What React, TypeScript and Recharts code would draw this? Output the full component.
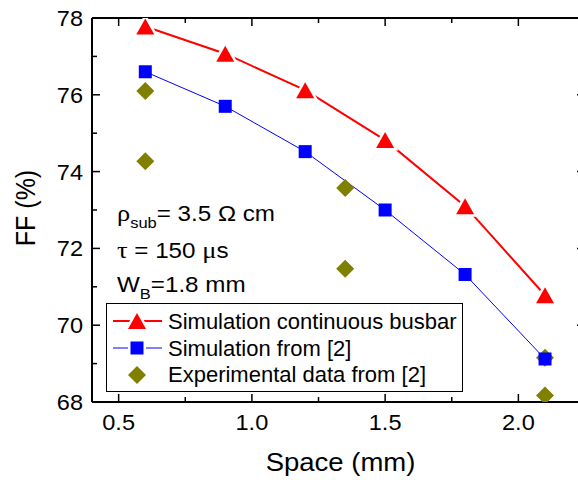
import React from 'react';
import { ComposedChart, Line, Scatter, XAxis, YAxis, Label } from 'recharts';

// values
const space = [0.6, 0.9, 1.2, 1.5, 1.8, 2.1];
const simContinuous = [77.78, 77.07, 76.12, 74.82, 73.1, 70.78];
const simRef2 = [76.6, 75.7, 74.52, 73.0, 71.32, 69.12];
const expSpace = [0.6, 0.6, 1.35, 1.35, 2.1, 2.1];
const expFF = [76.1, 74.27, 73.57, 71.47, 69.15, 68.17];

const xTicks = [0.5, 0.75, 1.0, 1.25, 1.5, 1.75, 2.0];
const xLabels = [0.5, 1.0, 1.5, 2.0];
const yTicks = [68, 69, 70, 71, 72, 73, 74, 75, 76, 77, 78];
const yLabels = [68, 70, 72, 74, 76, 78];

const continuousData = space.map((x, i) => ({ x, ff: simContinuous[i] }));
const ref2Data = space.map((x, i) => ({ x, ff: simRef2[i] }));
const expData = expSpace.map((x, i) => ({ x, ff: expFF[i] }));

const FONT = '"Liberation Sans", Arial, sans-serif';
const SERIF = '"Liberation Serif", "Times New Roman", serif';
const RED = '#ff0000';
const BLUE = '#0000ff';
const OLIVE = '#808000';
// the original figure is a little stretched sideways
const SX = 1.1;
const stretch = (x: number, s = SX) => `translate(${x},0) scale(${s},1) translate(${-x},0)`;

const Triangle = ({ cx, cy, halo = true }: any) => (
  <path
    d={`M${cx - 9},${cy + 8}L${cx + 9},${cy + 8}L${cx},${cy - 8}Z`}
    fill={RED}
    stroke={halo ? '#fff' : 'none'}
    strokeWidth={halo ? 5 : 0}
    style={{ paintOrder: 'stroke' }}
  />
);

const Square = ({ cx, cy }: any) => <rect x={cx - 6.5} y={cy - 6.5} width={13} height={13} fill={BLUE} />;

const Diamond = ({ cx, cy }: any) => (
  <path d={`M${cx},${cy - 9}L${cx + 9},${cy}L${cx},${cy + 9}L${cx - 9},${cy}Z`} fill={OLIVE} />
);

const BottomTick = ({ x, y, payload }: any) => {
  const major = xLabels.includes(payload.value);
  return (
    <g>
      <line x1={x} x2={x} y1={y} y2={y - (major ? 8 : 5)} stroke="#000" strokeWidth={1.5} />
      {major && (
        <text
          x={x}
          y={y + 28}
          transform={stretch(x, 1.07)}
          textAnchor="middle"
          fontFamily={FONT}
          fontSize={22}
          fill="#000"
        >
          {payload.value.toFixed(1)}
        </text>
      )}
    </g>
  );
};

const TopTick = ({ x, y, payload }: any) => {
  const major = xLabels.includes(payload.value);
  return <line x1={x} x2={x} y1={y} y2={y + (major ? 8 : 5)} stroke="#000" strokeWidth={1.5} />;
};

const LeftTick = ({ x, y, payload }: any) => {
  const major = yLabels.includes(payload.value);
  return (
    <g>
      <line x1={x} x2={x + (major ? 8 : 5)} y1={y} y2={y} stroke="#000" strokeWidth={1.5} />
      {major && (
        <text
          x={x - 9}
          y={y}
          dy="0.36em"
          transform={stretch(x - 9, 1.07)}
          textAnchor="end"
          fontFamily={FONT}
          fontSize={22}
          fill="#000"
        >
          {payload.value}
        </text>
      )}
    </g>
  );
};

const RightTick = ({ x, y, payload }: any) => {
  const major = yLabels.includes(payload.value);
  return <line x1={x} x2={x - (major ? 8 : 5)} y1={y} y2={y} stroke="#000" strokeWidth={1.5} />;
};

const axisLine = { stroke: '#000', strokeWidth: 2 };

const Overlay = () => (
  <svg
    width={578}
    height={480}
    style={{ position: 'absolute', left: 0, top: 0, pointerEvents: 'none' }}
  >
    {/* parameters */}
    <text x={117} y={221} transform={stretch(117)} fontFamily={FONT} fontSize={22} fill="#000">
      <tspan fontFamily={SERIF} fontSize={24}>ρ</tspan>
      <tspan fontSize={15} dy={7}>sub</tspan>
      <tspan dy={-7}>= 3.5 Ω cm</tspan>
    </text>
    <text x={117} y={258} transform={stretch(117)} fontFamily={FONT} fontSize={22} fill="#000">
      <tspan fontFamily={SERIF} fontSize={24}>τ</tspan>
      <tspan> = 150 </tspan>
      <tspan fontFamily={SERIF} fontSize={24}>μ</tspan>
      <tspan>s</tspan>
    </text>
    <text x={117} y={292} transform={stretch(117)} fontFamily={FONT} fontSize={22} fill="#000">
      <tspan>W</tspan>
      <tspan fontSize={15} dy={7}>B</tspan>
      <tspan dy={-7}>=1.8 mm</tspan>
    </text>

    {/* legend */}
    <rect x={106.5} y={303.5} width={356} height={88} fill="#fff" stroke="#000" strokeWidth={1} />
    <line x1={113} x2={162} y1={321} y2={321} stroke={RED} strokeWidth={2} />
    <Triangle cx={137} cy={321} />
    <line x1={113} x2={162} y1={348} y2={348} stroke={BLUE} strokeWidth={1} />
    <rect x={128} y={339} width={18} height={18} fill="#fff" />
    <Square cx={137} cy={348} />
    <Diamond cx={137} cy={375} />
    <text fontFamily={FONT} fontSize={22} fill="#000">
      <tspan x={168} y={329}>Simulation continuous busbar</tspan>
      <tspan x={168} y={355.5}>Simulation from [2]</tspan>
      <tspan x={168} y={382}>Experimental data from [2]</tspan>
    </text>
  </svg>
);

export default function App() {
  return (
    <div style={{ position: 'absolute', left: 0, top: 0, width: 578, height: 480, overflow: 'hidden', background: '#fff' }}>
      <ComposedChart width={600} height={480} margin={{ top: 17, right: 14, bottom: 0, left: 0 }}>
        <XAxis
          type="number"
          dataKey="x"
          domain={[0.4, 2.25]}
          ticks={xTicks}
          interval={0}
          allowDataOverflow
          height={78}
          tickSize={0}
          tickMargin={0}
          tickLine={false}
          axisLine={axisLine}
          tick={<BottomTick />}
        >
          <Label
            content={({ viewBox }: any) => {
              const cx = viewBox.x + viewBox.width / 2 + 2;
              return (
                <text
                  x={cx}
                  y={viewBox.y + 69}
                  transform={stretch(cx)}
                  textAnchor="middle"
                  fontFamily={FONT}
                  fontSize={25}
                  fill="#000"
                >
                  Space (mm)
                </text>
              );
            }}
          />
        </XAxis>
        <XAxis
          xAxisId="top"
          orientation="top"
          type="number"
          dataKey="x"
          domain={[0.4, 2.25]}
          ticks={xTicks}
          interval={0}
          allowDataOverflow
          height={1}
          tickSize={0}
          tickMargin={0}
          tickLine={false}
          axisLine={axisLine}
          tick={<TopTick />}
        />
        <YAxis
          type="number"
          domain={[68, 78]}
          ticks={yTicks}
          interval={0}
          allowDataOverflow
          width={92}
          tickSize={0}
          tickMargin={0}
          tickLine={false}
          axisLine={axisLine}
          tick={<LeftTick />}
        >
          <Label
            content={({ viewBox }: any) => {
              const cx = 35;
              const cy = viewBox.y + viewBox.height / 2 - 2;
              return (
                <text
                  x={0}
                  y={0}
                  transform={`translate(${cx}, ${cy}) scale(${SX}, 1) rotate(-90)`}
                  textAnchor="middle"
                  fontFamily={FONT}
                  fontSize={25}
                  fill="#000"
                >
                  FF (%)
                </text>
              );
            }}
          />
        </YAxis>
        <YAxis
          yAxisId="right"
          orientation="right"
          type="number"
          domain={[68, 78]}
          ticks={yTicks}
          interval={0}
          allowDataOverflow
          width={1}
          tickSize={0}
          tickMargin={0}
          tickLine={false}
          axisLine={axisLine}
          tick={<RightTick />}
        />
        <Line
          data={continuousData}
          dataKey="ff"
          type="linear"
          stroke={RED}
          strokeWidth={2}
          dot={(p: any) => <Triangle key={`t${p.index}`} cx={p.cx} cy={p.cy} />}
          activeDot={false}
          isAnimationActive={false}
        />
        <Line
          data={ref2Data}
          dataKey="ff"
          type="linear"
          stroke={BLUE}
          strokeWidth={1}
          dot={false}
          activeDot={false}
          isAnimationActive={false}
        />
        <Scatter data={expData} dataKey="ff" shape={(p: any) => <Diamond cx={p.cx} cy={p.cy} />} isAnimationActive={false} />
        <Scatter data={ref2Data} dataKey="ff" shape={(p: any) => <Square cx={p.cx} cy={p.cy} />} isAnimationActive={false} />
      </ComposedChart>
      <Overlay />
    </div>
  );
}
